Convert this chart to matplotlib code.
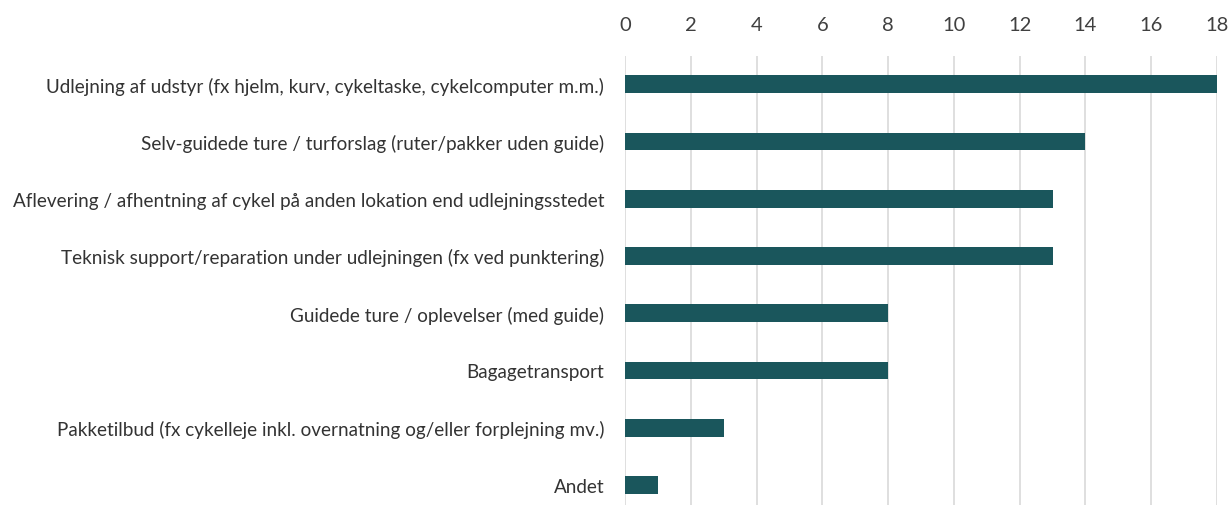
import matplotlib
matplotlib.use("Agg")
import matplotlib.pyplot as plt

categories = [
    "Udlejning af udstyr (fx hjelm, kurv, cykeltaske, cykelcomputer m.m.)",
    "Selv-guidede ture / turforslag (ruter/pakker uden guide)",
    "Aflevering / afhentning af cykel på anden lokation end udlejningsstedet",
    "Teknisk support/reparation under udlejningen (fx ved punktering)",
    "Guidede ture / oplevelser (med guide)",
    "Bagagetransport",
    "Pakketilbud (fx cykelleje inkl. overnatning og/eller forplejning mv.)",
    "Andet",
]
values = [18, 14, 13, 13, 8, 8, 3, 1]
xticks = [0, 2, 4, 6, 8, 10, 12, 14, 16, 18]

W, H = 1231, 506
fig = plt.figure(figsize=(W / 100, H / 100), dpi=100)
left, right, top, bottom = 625, 1217, 56.5, 506
ax = fig.add_axes([left / W, 1 - bottom / H, (right - left) / W, (bottom - top) / H])

ypos = list(range(len(categories)))
ax.barh(ypos, values, height=0.31, color="#1a565c", zorder=3)
ax.set_xlim(0, 18)
ax.set_ylim(7.5 - 8.6 / 57.3, -0.5)
ax.set_xticks(xticks)
ax.set_xticklabels([str(t) for t in xticks])
ax.xaxis.tick_top()
ax.set_yticks(ypos)
ax.set_yticklabels(categories)
ax.grid(axis="x", color="#d9d9d9", linewidth=1.2, zorder=0)
for s in ax.spines.values():
    s.set_visible(False)
ax.tick_params(axis="x", length=0, pad=16, labelsize=14.5, labelcolor="#404040")
ax.tick_params(axis="y", length=0, pad=15, labelsize=13.6, labelcolor="#333333")
for lbl in ax.get_xticklabels() + ax.get_yticklabels():
    lbl.set_fontfamily(["Lato", "DejaVu Sans"])

fig.savefig("out.png", dpi=100)
